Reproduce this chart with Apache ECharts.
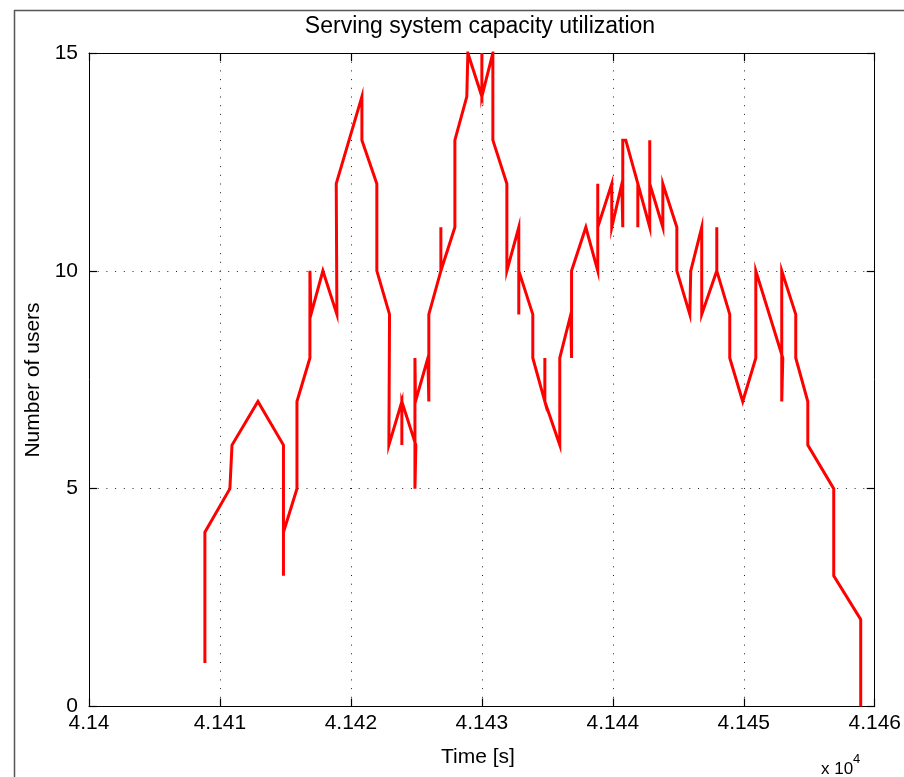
<!DOCTYPE html>
<html>
<head>
<meta charset="utf-8">
<script src="https://cdn.jsdelivr.net/npm/echarts@6/dist/echarts.min.js"></script>
<style>
html,body{margin:0;padding:0;background:#fff;}
#chart{width:904px;height:777px;}
</style>
</head>
<body>
<div id="chart"></div>
<script>
// Time stamps (seconds) of the utilization trace
const timeS = [
  41408.85, 41408.85, 41410.76, 41410.92, 41412.90, 41414.85, 41414.85, 41414.85,
  41415.88, 41415.88, 41416.87, 41416.87, 41416.95, 41417.86, 41418.93, 41418.88,
  41420.84, 41420.84, 41421.98, 41421.98, 41422.95, 41422.90, 41423.89, 41423.89,
  41423.89, 41424.96, 41424.89, 41424.89, 41424.93, 41425.88, 41425.95, 41425.95,
  41426.87, 41426.87, 41426.87, 41427.94, 41427.94, 41428.85, 41428.93, 41430.00,
  41430.00, 41430.00, 41430.84, 41430.84, 41431.91, 41431.91, 41432.82, 41432.82,
  41432.82, 41433.89, 41433.89, 41434.81, 41434.81, 41434.81, 41435.95, 41435.95,
  41436.79, 41436.85, 41436.85, 41437.94, 41438.85, 41438.85, 41438.85, 41439.92,
  41439.92, 41440.69, 41440.76, 41440.76, 41440.99, 41441.91, 41441.91, 41441.91,
  41442.82, 41442.82, 41442.82, 41443.82, 41443.82, 41444.89, 41444.89, 41445.88,
  41445.95, 41446.79, 41446.79, 41447.94, 41447.94, 41447.94, 41448.93, 41448.93,
  41449.92, 41450.92, 41450.92, 41452.98, 41452.90, 41452.90, 41453.97, 41453.97,
  41454.89, 41454.89, 41456.87, 41456.87, 41458.93, 41458.93
];
// Number of users in the serving system
const users = [
  1, 4, 5, 6, 7, 6, 3, 4,
  5, 7, 8, 10, 9, 10, 9, 12,
  14, 13, 12, 10, 9, 6, 7, 6,
  7, 6, 5, 8, 7, 8, 7, 9,
  10, 11, 10, 11, 13, 14, 15, 14,
  15, 14, 15, 13, 12, 10, 11, 9,
  10, 9, 8, 7, 8, 7, 6, 8,
  9, 8, 10, 11, 10, 12, 11, 12,
  11, 12, 11, 13, 13, 12, 11, 12,
  11, 13, 12, 11, 12, 11, 10, 9,
  10, 11, 9, 10, 11, 10, 9, 8,
  7, 8, 10, 8, 7, 10, 9, 8,
  7, 6, 5, 3, 2, 0
];
const xTickLabels = ['4.14', '4.141', '4.142', '4.143', '4.144', '4.145', '4.146'];
const yTickLabels = ['0', '5', '10', '15'];
const titleText = 'Serving system capacity utilization';
const xName = 'Time [s]';
const yName = 'Number of users';

const FONT = "'Liberation Sans', Arial, sans-serif";
const chart = echarts.init(document.getElementById('chart'), null, {renderer: 'canvas'});
const seriesData = timeS.map((t, i) => [t, users[i]]);

const gridLine = {show: true, lineStyle: {color: '#222', width: 1, type: [1, 7.7]}};
const axLine = {show: true, onZero: false, lineStyle: {color: '#000', width: 1}};
const tick = {show: true, inside: true, length: 8, lineStyle: {color: '#000', width: 1.2}};

chart.setOption({
  backgroundColor: '#fff',
  animation: false,
  grid: {left: 89, right: 29, top: 53, bottom: 70.5, containLabel: false},
  xAxis: [
    {
      type: 'value', position: 'bottom', min: 41400, max: 41460, interval: 10,
      axisLine: axLine, axisTick: tick, splitLine: gridLine,
      axisLabel: {
        margin: 6, color: '#000', fontSize: 21, fontFamily: FONT,
        formatter: v => xTickLabels[Math.round((v - 41400) / 10)]
      }
    },
    {
      type: 'value', position: 'top', min: 41400, max: 41460, interval: 10,
      axisLine: axLine, axisTick: tick, splitLine: {show: false}, axisLabel: {show: false}
    }
  ],
  yAxis: [
    {
      type: 'value', position: 'left', min: 0, max: 15, interval: 5,
      axisLine: axLine, axisTick: tick, splitLine: gridLine,
      axisLabel: {
        margin: 11, color: '#000', fontSize: 21, fontFamily: FONT,
        formatter: v => yTickLabels[Math.round(v / 5)]
      }
    },
    {
      type: 'value', position: 'right', min: 0, max: 15, interval: 5,
      axisLine: axLine, axisTick: tick, splitLine: {show: false}, axisLabel: {show: false}
    }
  ],
  series: [{
    type: 'line', data: seriesData, xAxisIndex: 0, yAxisIndex: 0,
    showSymbol: false, symbol: 'none', clip: true,
    lineStyle: {color: '#ff0000', width: 3, join: 'miter'},
    z: 3
  }],
  graphic: [
    {type: 'line', shape: {x1: 14.5, y1: 10, x2: 14.5, y2: 777}, style: {stroke: '#555', lineWidth: 1.5}, silent: true},
    {type: 'line', shape: {x1: 14, y1: 10.5, x2: 904, y2: 10.5}, style: {stroke: '#555', lineWidth: 1.5}, silent: true},
    {type: 'text', x: 480, y: 27, style: {text: titleText, font: '23px ' + FONT, fill: '#000', align: 'center', verticalAlign: 'middle'}},
    {type: 'text', x: 478, y: 757, style: {text: xName, font: '21px ' + FONT, fill: '#000', align: 'center', verticalAlign: 'middle'}},
    {type: 'text', x: 33, y: 380, rotation: Math.PI / 2, style: {text: yName, font: '21px ' + FONT, fill: '#000', align: 'center', verticalAlign: 'middle'}},
    {type: 'text', x: 821, y: 769, style: {text: 'x 10', font: '17px ' + FONT, fill: '#000', align: 'left', verticalAlign: 'middle'}},
    {type: 'text', x: 853, y: 759, style: {text: '4', font: '13px ' + FONT, fill: '#000', align: 'left', verticalAlign: 'middle'}}
  ]
});
</script>
</body>
</html>
